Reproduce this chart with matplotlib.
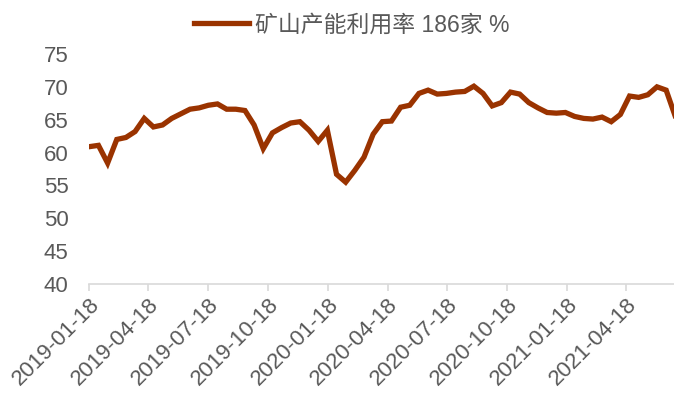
import numpy as np
import pandas as pd
import matplotlib
matplotlib.use("Agg")
import matplotlib.pyplot as plt
import matplotlib.dates as mdates

plt.rcParams['font.family'] = ['Liberation Sans', 'Noto Sans CJK SC', 'DejaVu Sans']

# biweekly mine capacity utilisation, 186 mines (%)
start_date = "2019-01-18"
utilisation = [60.9, 61.1, 58.4, 62.0, 62.3, 63.2, 65.2, 63.9, 64.2, 65.2,
               65.9, 66.6, 66.8, 67.2, 67.4, 66.6, 66.6, 66.4, 64.2, 60.6,
               63.0, 63.8, 64.5, 64.7, 63.4, 61.7, 63.4, 56.7, 55.5, 57.3,
               59.3, 62.8, 64.7, 64.8, 66.9, 67.2, 69.0, 69.5, 68.9, 69.0,
               69.2, 69.3, 70.1, 69.0, 67.1, 67.6, 69.2, 68.9, 67.6, 66.8,
               66.1, 66.0, 66.1, 65.5, 65.2, 65.1, 65.4, 64.7, 65.8, 68.6,
               68.4, 68.8, 70.0, 69.5, 65.5]
dates = pd.date_range(start_date, periods=len(utilisation), freq="14D")

tick_dates = ["2019-01-18", "2019-04-18", "2019-07-18", "2019-10-18",
              "2020-01-18", "2020-04-18", "2020-07-18", "2020-10-18",
              "2021-01-18", "2021-04-18"]
y_ticks = [40, 45, 50, 55, 60, 65, 70, 75]
series_name = "矿山产能利用率 186家 %"

line_color = "#9a3300"
text_color = "#595959"

fig = plt.figure(figsize=(6.74, 3.94), dpi=100)
ax = fig.add_axes([0.1325, 0.279, 0.8675, 0.584])

ax.plot(dates, utilisation, color=line_color, lw=3.8, solid_joinstyle="miter",
        label=series_name)

ax.set_ylim(40, 75)
ax.set_yticks(y_ticks)
ax.set_xlim(pd.Timestamp(start_date), pd.Timestamp(start_date) + pd.Timedelta(days=894))
ax.set_xticks(pd.to_datetime(tick_dates))
ax.xaxis.set_major_formatter(mdates.DateFormatter("%Y-%m-%d"))

for side in ["top", "right", "left"]:
    ax.spines[side].set_visible(False)
ax.spines["bottom"].set_color("#d9d9d9")
ax.spines["bottom"].set_linewidth(1.2)

ax.tick_params(axis="y", length=0, labelsize=16, labelcolor=text_color, pad=15)
ax.tick_params(axis="x", length=5, width=1.2, color="#d9d9d9",
               labelsize=16, labelcolor=text_color, pad=2)
for lbl in ax.get_xticklabels():
    lbl.set_rotation(45)
    lbl.set_ha("right")
    lbl.set_rotation_mode("anchor")

fig.legend(loc="center", bbox_to_anchor=(352 / 674, 0.937), frameon=False,
           handlelength=2.4, handletextpad=0.25, fontsize=16.5, labelcolor=text_color)

fig.savefig("out.png", dpi=100)
